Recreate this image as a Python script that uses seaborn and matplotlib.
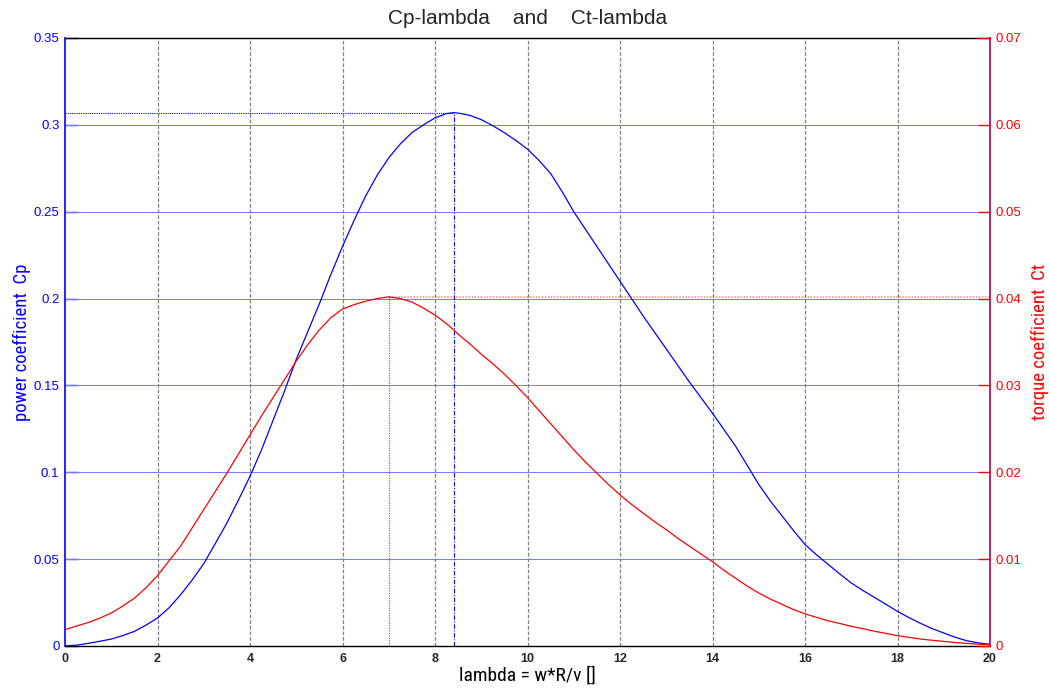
import numpy as np
import pandas as pd
import matplotlib
matplotlib.use("Agg")
import matplotlib.pyplot as plt
from matplotlib import font_manager
import seaborn as sns

# tip-speed ratio samples
lam = [0, 0.25, 0.5, 0.75, 1, 1.25, 1.5, 1.75, 2, 2.25, 2.5, 2.75, 3, 3.25,
       3.5, 3.75, 4, 4.25, 4.5, 4.75, 5, 5.25, 5.5, 5.75, 6, 6.25, 6.5, 6.75,
       7, 7.25, 7.5, 7.75, 8, 8.25, 8.4, 8.5, 8.75, 9, 9.25, 9.5, 9.75, 10,
       10.25, 10.5, 10.75, 11, 11.25, 11.5, 11.75, 12, 12.25, 12.5, 12.75, 13,
       13.25, 13.5, 13.75, 14, 14.25, 14.5, 14.75, 15, 15.25, 15.5, 15.75, 16,
       16.25, 16.5, 16.75, 17, 17.25, 17.5, 17.75, 18, 18.25, 18.5, 18.75, 19,
       19.25, 19.5, 19.75, 20]

# power coefficient
cp = [0.000, 0.0005, 0.0015, 0.0027, 0.004, 0.006, 0.0084, 0.012, 0.0161,
      0.022, 0.0295, 0.038, 0.0474, 0.059, 0.0708, 0.084, 0.0977, 0.113,
      0.130, 0.147, 0.165, 0.181, 0.197, 0.214, 0.230, 0.245, 0.259, 0.271,
      0.281, 0.289, 0.2955, 0.300, 0.304, 0.3065, 0.307, 0.3068, 0.3055,
      0.303, 0.2995, 0.2955, 0.291, 0.286, 0.2795, 0.272, 0.2615, 0.250,
      0.240, 0.230, 0.220, 0.210, 0.200, 0.190, 0.1805, 0.171, 0.1615, 0.152,
      0.143, 0.134, 0.1245, 0.115, 0.104, 0.093, 0.0835, 0.075, 0.0665,
      0.0584, 0.0525, 0.047, 0.0415, 0.0363, 0.032, 0.028, 0.024, 0.0199,
      0.0163, 0.013, 0.010, 0.0075, 0.005, 0.003, 0.0018, 0.001]

# torque coefficient
ct = [0.00188, 0.0023, 0.0027, 0.0032, 0.0038, 0.0046, 0.0055, 0.0067,
      0.0081, 0.0098, 0.0115, 0.0136, 0.0157, 0.0178, 0.0199, 0.0221, 0.0243,
      0.0265, 0.0286, 0.0307, 0.0328, 0.0347, 0.0364, 0.0378, 0.0388, 0.0393,
      0.0397, 0.0400, 0.0402, 0.0400, 0.0396, 0.0389, 0.0381, 0.0371, 0.0364,
      0.0359, 0.0348, 0.0336, 0.0325, 0.0313, 0.0300, 0.0286, 0.0271, 0.0256,
      0.0241, 0.0226, 0.0212, 0.0199, 0.0186, 0.0174, 0.0163, 0.0153, 0.0143,
      0.0134, 0.0124, 0.0115, 0.0106, 0.0097, 0.0087, 0.0078, 0.0069, 0.0061,
      0.0054, 0.0048, 0.0042, 0.0037, 0.0033, 0.0029, 0.0026, 0.00226, 0.0020,
      0.0017, 0.00145, 0.00119, 0.0010, 0.0008, 0.00066, 0.00053, 0.0004,
      0.0003, 0.0002, 0.00015]

x_ticks = [0, 2, 4, 6, 8, 10, 12, 14, 16, 18, 20]
cp_ticks = [0, 0.05, 0.1, 0.15, 0.2, 0.25, 0.3, 0.35]
cp_labels = ["0", "0.05", "0.1", "0.15", "0.2", "0.25", "0.3", "0.35"]
ct_ticks = [0, 0.01, 0.02, 0.03, 0.04, 0.05, 0.06, 0.07]
ct_labels = ["0", "0.01", "0.02", "0.03", "0.04", "0.05", "0.06", "0.07"]

df = pd.DataFrame({"lambda": lam, "Cp": cp, "Ct": ct})

sns.set_style("white")
plt.rcParams["font.family"] = ["Liberation Sans", "DejaVu Sans"]


def pick_font(names):
    avail = {f.name for f in font_manager.fontManager.ttflist}
    for n in names:
        if n in avail:
            return n
    return "DejaVu Sans"


narrow = pick_font(["Liberation Sans Narrow", "DejaVu Sans Condensed",
                    "Roboto Condensed", "Open Sans Condensed", "Noto Sans"])
narrow_kw = dict(family=narrow)
if narrow in ("Noto Sans", "DejaVu Sans"):
    narrow_kw["fontstretch"] = "condensed"

BLUE = "#0000ff"
RED = "#ff0000"

fig = plt.figure(figsize=(10.49, 6.93), dpi=100)
ax1 = fig.add_axes([65 / 1049, 47 / 693, 925 / 1049, 608 / 693])
ax2 = ax1.twinx()

sns.lineplot(data=df, x="lambda", y="Cp", ax=ax1, color=BLUE, lw=0.9)
sns.lineplot(data=df, x="lambda", y="Ct", ax=ax2, color=RED, lw=0.9)

ax1.set_xlim(0, 20)
ax1.set_ylim(0, 0.35)
ax2.set_ylim(0, 0.07)

# grid: grey dotted verticals, blue dotted horizontals (1 px, pixel-snapped)
for xv in x_ticks[1:-1]:
    ax1.axvline(xv, color="#808080", lw=0.9, ls=(0, (3, 1.5)), zorder=0.5)
for yv in cp_ticks[1:-1]:
    ax1.axhline(yv, color="#7a7aff", lw=0.72, ls=(0, (4, 1)), zorder=0.6,
                snap=True, antialiased=False)

# maximum of Cp
i_cp = int(np.argmax(cp))
ax1.plot([lam[i_cp], lam[i_cp]], [0, cp[i_cp]], color=BLUE, lw=0.8,
         ls=(0, (4, 1.5, 1, 1.5)))
ax1.plot([0, lam[i_cp]], [cp[i_cp], cp[i_cp]], color=BLUE, lw=0.8,
         ls=(0, (1, 1)))

# maximum of Ct
i_ct = int(np.argmax(ct))
ax2.plot([lam[i_ct], lam[i_ct]], [0, ct[i_ct]], color=RED, lw=0.9,
         ls=(0, (1, 1)), alpha=0.75)
ax2.plot([lam[i_ct], 20], [ct[i_ct], ct[i_ct]], color=RED, lw=1.1,
         ls=(0, (1, 1)), alpha=0.5)

ax1.set_xticks(x_ticks)
ax1.set_xticklabels([str(v) for v in x_ticks], fontweight="bold", fontsize=9)
ax1.set_yticks(cp_ticks)
ax1.set_yticklabels(cp_labels, color=BLUE, fontsize=9.5)
ax2.set_yticks(ct_ticks)
ax2.set_yticklabels(ct_labels, color=RED, fontsize=9.5)

ax1.tick_params(axis="x", direction="in", length=9, width=1.2, color="black", pad=5)
ax1.tick_params(axis="y", direction="in", length=9, width=1.0, color=BLUE, pad=4)
ax2.tick_params(axis="y", direction="in", length=9, width=1.0, color=RED, pad=4)

for side in ("top", "bottom"):
    ax1.spines[side].set_color("black")
    ax1.spines[side].set_linewidth(1.0)
ax1.spines["left"].set_color(BLUE)
ax1.spines["left"].set_linewidth(1.2)
ax2.spines["right"].set_color("#b0005a")
ax2.spines["right"].set_linewidth(1.2)
ax2.spines["left"].set_visible(False)
ax2.spines["top"].set_visible(False)
ax2.spines["bottom"].set_visible(False)
ax1.spines["right"].set_visible(False)

ax1.set_xlabel("lambda = w*R/v []", fontsize=14, color="black", labelpad=1, **narrow_kw)
ax1.set_ylabel("power coefficient  Cp", fontsize=13.5, color=BLUE, labelpad=2, **narrow_kw)
ax2.set_ylabel("torque coefficient  Ct", fontsize=13.5, color=RED, labelpad=7, **narrow_kw)
ax1.set_title("Cp-lambda    and    Ct-lambda", fontsize=15, pad=10)

fig.savefig("out.png", dpi=100, facecolor="white")
